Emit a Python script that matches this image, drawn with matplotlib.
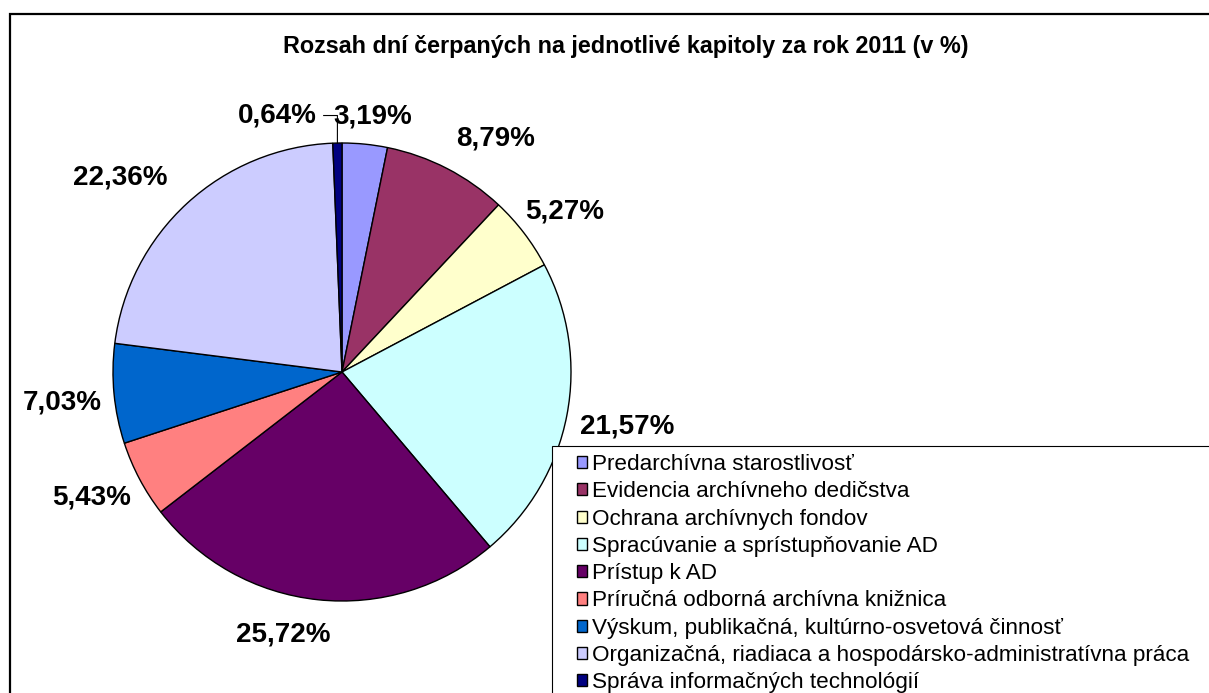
import numpy as np
import matplotlib.pyplot as plt
from matplotlib.patches import Rectangle

plt.rcParams["font.family"] = ["Liberation Sans", "DejaVu Sans"]

title = "Rozsah dní čerpaných na jednotlivé kapitoly za rok 2011 (v %)"
categories = [
    "Predarchívna starostlivosť",
    "Evidencia archívneho dedičstva",
    "Ochrana archívnych fondov",
    "Spracúvanie a sprístupňovanie AD",
    "Prístup k AD",
    "Príručná odborná archívna knižnica",
    "Výskum, publikačná, kultúrno-osvetová činnosť",
    "Organizačná, riadiaca a hospodársko-administratívna práca",
    "Správa informačných technológií",
]
values = [3.19, 8.79, 5.27, 21.57, 25.72, 5.43, 7.03, 22.36, 0.64]
colors = ["#9999FF", "#993366", "#FFFFCC", "#CCFFFF", "#660066",
          "#FF8080", "#0066CC", "#CCCCFF", "#000080"]

W, H = 1209, 693
fig = plt.figure(figsize=(W / 100, H / 100), dpi=100)

# outer chart border (runs off the right and bottom edges like the original)
fig.add_artist(Rectangle((10 / W, -0.5), 3, 1 - 14 / H + 0.5,
                         transform=fig.transFigure, fill=False,
                         edgecolor="black", linewidth=1.6))

fig.text(626 / W, 1 - 47 / H, title, ha="center", va="center",
         fontsize=16.8, fontweight="bold")

cx, cy, r = 342, 372, 229
ax = fig.add_axes([(cx - r) / W, (H - cy - r) / H, 2 * r / W, 2 * r / H])

labels = [("%.2f%%" % v).replace(".", ",") for v in values]
wedges, texts = ax.pie(values, colors=colors, startangle=90, counterclock=False,
                       labels=labels, labeldistance=1.13,
                       wedgeprops=dict(edgecolor="black", linewidth=1),
                       textprops=dict(fontsize=20, fontweight="bold"))
ax.set_xlim(-1, 1)
ax.set_ylim(-1, 1)
ax.set_aspect("equal")

for t in texts:
    t.set_va("center")

# first small slice: centred above its wedge
texts[0].set_ha("center")
texts[0].set_position((0.135, 1.115))

# last tiny slice: label pulled left with a leader line
last = wedges[-1]
mid = np.deg2rad((last.theta1 + last.theta2) / 2)
ex, ey = np.cos(mid), np.sin(mid)
texts[-1].set_ha("right")
texts[-1].set_position((-0.11, 1.12))
ax.plot([ex, -0.02, -0.08], [ey, 1.12, 1.12], color="black", lw=0.8, clip_on=False)

# nudge the remaining labels to sit like the original
texts[1].set_position((0.50, 1.02))
texts[2].set_position((0.80, 0.70))
texts[3].set_position((1.04, -0.24))
texts[4].set_position((-0.05, -1.146))
texts[5].set_position((-0.92, -0.55))
texts[6].set_position((-1.05, -0.135))
texts[7].set_position((-0.76, 0.85))

# legend box, also running off the figure edges
fig.add_artist(Rectangle((552 / W, -0.5), 3, 0.5 + 1 - 446 / H,
                         transform=fig.transFigure, facecolor="white",
                         edgecolor="black", linewidth=0.8, zorder=3))

leg = fig.legend(wedges, categories, loc="upper left",
                 bbox_to_anchor=(577 / W, 1 - 454 / H),
                 fontsize=16.2, frameon=False, borderpad=0,
                 handlelength=0.45, handleheight=0.45, handletextpad=0.22,
                 labelspacing=0.28, borderaxespad=0)
leg.set_zorder(4)

fig.savefig("out.png", dpi=100)
